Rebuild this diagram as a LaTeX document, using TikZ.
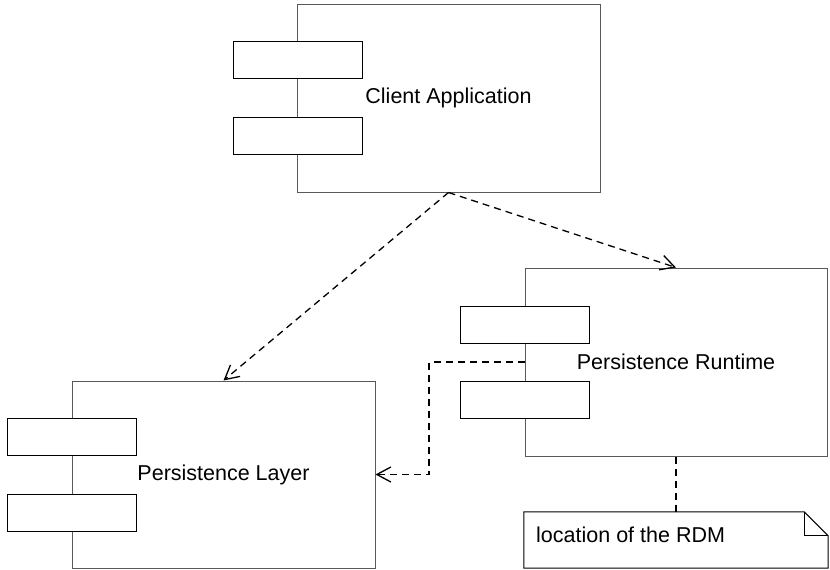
\documentclass[tikz,border=0pt]{standalone}
\usepackage{fontspec}
\setmainfont{Liberation Sans}
\usetikzlibrary{arrows.meta}
\begin{document}
\begin{tikzpicture}[x=1pt,y=-1pt,
  comp/.style={draw=black!65, line width=1pt, minimum width=303pt, minimum height=188pt, inner sep=0pt, font=\fontsize{21.5}{26}\selectfont},
  port/.style={draw=black, fill=white, line width=1pt, minimum width=129pt, minimum height=37pt, inner sep=0pt},
  dep/.style={dash pattern=on 7pt off 5pt, line width=1.3pt, -{Straight Barb[length=14pt,width=15pt,line width=1.3pt]}},
  link/.style={dash pattern=on 7pt off 5pt, line width=1.3pt},
  notetext/.style={font=\fontsize{21.5}{26}\selectfont, inner sep=0pt, anchor=west},
]
\useasboundingbox (0,0) rectangle (830,570);

% components
\node[comp] (client) at (448.5,98) {Client Application};
\node[port] (c1) at (297.5,60) {};
\node[port] (c2) at (297.5,135.5) {};

\node[comp, minimum width=302pt] (runtime) at (676,362) {Persistence Runtime};
\node[port] (r1) at (525,324.5) {};
\node[port] (r2) at (525,399.5) {};

\node[comp, minimum height=187pt] (layer) at (223.5,474.5) {Persistence Layer};
\node[port] (l1) at (71.5,437) {};
\node[port] (l2) at (71.5,513) {};

% note
\node[minimum width=304pt, minimum height=56pt, inner sep=0pt] (note) at (676,540) {};
\draw[line width=1pt] (note.north west) -- ([xshift=-24pt]note.north east) -- ([yshift=-24pt]note.north east) -- (note.south east) -- (note.south west) -- cycle;
\draw[line width=1pt] ([xshift=-24pt]note.north east) |- ([yshift=-24pt]note.north east);
\node[notetext] (notelabel) at (536,535) {location of the RDM};

% connectors
\draw[dep] (client.south) -- (layer.north);
\draw[dep] (client.south) -- (runtime.north);
\coordinate (elb) at (429,362);
\draw[dep] (runtime.west) -- (elb) |- (layer.east);
\draw[link] (runtime.south) -- (note.north);
\end{tikzpicture}
\end{document}
